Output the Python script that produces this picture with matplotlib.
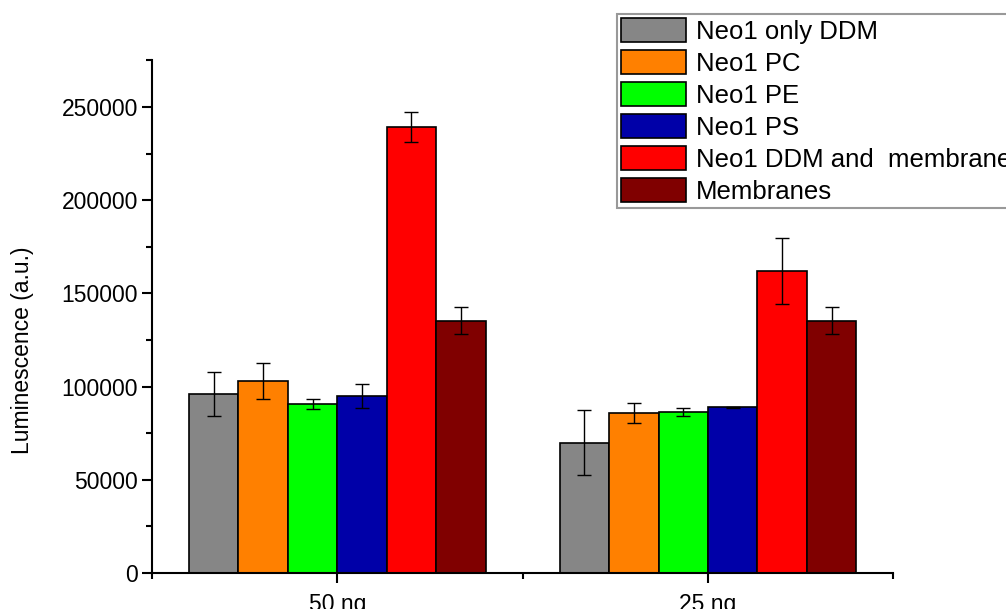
import numpy as np
import matplotlib
matplotlib.use("Agg")
import matplotlib.pyplot as plt
from matplotlib.ticker import MultipleLocator, FixedLocator

plt.rcParams['font.family'] = ['Liberation Sans', 'DejaVu Sans']

groups = ["50 ng", "25 ng"]
series = ["Neo1 only DDM", "Neo1 PC", "Neo1 PE", "Neo1 PS",
          "Neo1 DDM and  membranes", "Membranes"]
colors = ["#868686", "#FF8000", "#00FF00", "#0000A8", "#FF0000", "#800000"]

# values per series: [50 ng, 25 ng]
means = [
    [96000, 70000],
    [103000, 86000],
    [90700, 86300],
    [95000, 89000],
    [239300, 162000],
    [135400, 135400],
]
errors = [
    [12000, 17500],
    [9500, 5300],
    [2500, 2300],
    [6500, 300],
    [8000, 17700],
    [7100, 7100],
]

fig = plt.figure(figsize=(10.06, 6.09), dpi=100)
ax = fig.add_axes([0.151, 0.059, 0.737, 0.842])

x = np.arange(1, len(groups) + 1)
width = 0.8 / len(series)
for i, name in enumerate(series):
    pos = x - 0.4 + width * (i + 0.5)
    ax.bar(pos, means[i], width, color=colors[i], edgecolor="black",
           linewidth=1.2, label=name, zorder=2)
    ax.errorbar(pos, means[i], yerr=errors[i], fmt="none", ecolor="black",
                elinewidth=1.0, capsize=5, capthick=1.0, zorder=3)

ax.set_xlim(0.5, 2.5)
ax.set_ylim(0, 275000)
ax.set_xticks(x)
ax.set_xticklabels(groups)
ax.xaxis.set_minor_locator(FixedLocator([0.5, 1.5, 2.5]))
ax.yaxis.set_major_locator(MultipleLocator(50000))
ax.yaxis.set_minor_locator(MultipleLocator(25000))

for s in ["top", "right"]:
    ax.spines[s].set_visible(False)
for s in ["left", "bottom"]:
    ax.spines[s].set_linewidth(1.5)

ax.tick_params(axis="both", which="major", length=7, width=1.5,
               labelsize=16.5, direction="out")
ax.tick_params(axis="both", which="minor", length=4, width=1.5,
               direction="out")
ax.tick_params(axis="x", which="major", pad=7)
ax.tick_params(axis="y", which="major", pad=3)

ax.set_ylabel("Luminescence (a.u.)", fontsize=16.5)
ax.yaxis.set_label_coords(-0.159, 0.435)

leg = fig.legend(loc="upper left", bbox_to_anchor=(617 / 1006, 1 - 14 / 609),
                 borderaxespad=0, fontsize=18.5, frameon=True, fancybox=False,
                 handlelength=2.53, handleheight=1.05, handletextpad=0.39,
                 labelspacing=0.25, borderpad=0.15)
leg.get_frame().set_edgecolor("#808080")
leg.get_frame().set_linewidth(1.5)

fig.savefig("out.png", dpi=100)
